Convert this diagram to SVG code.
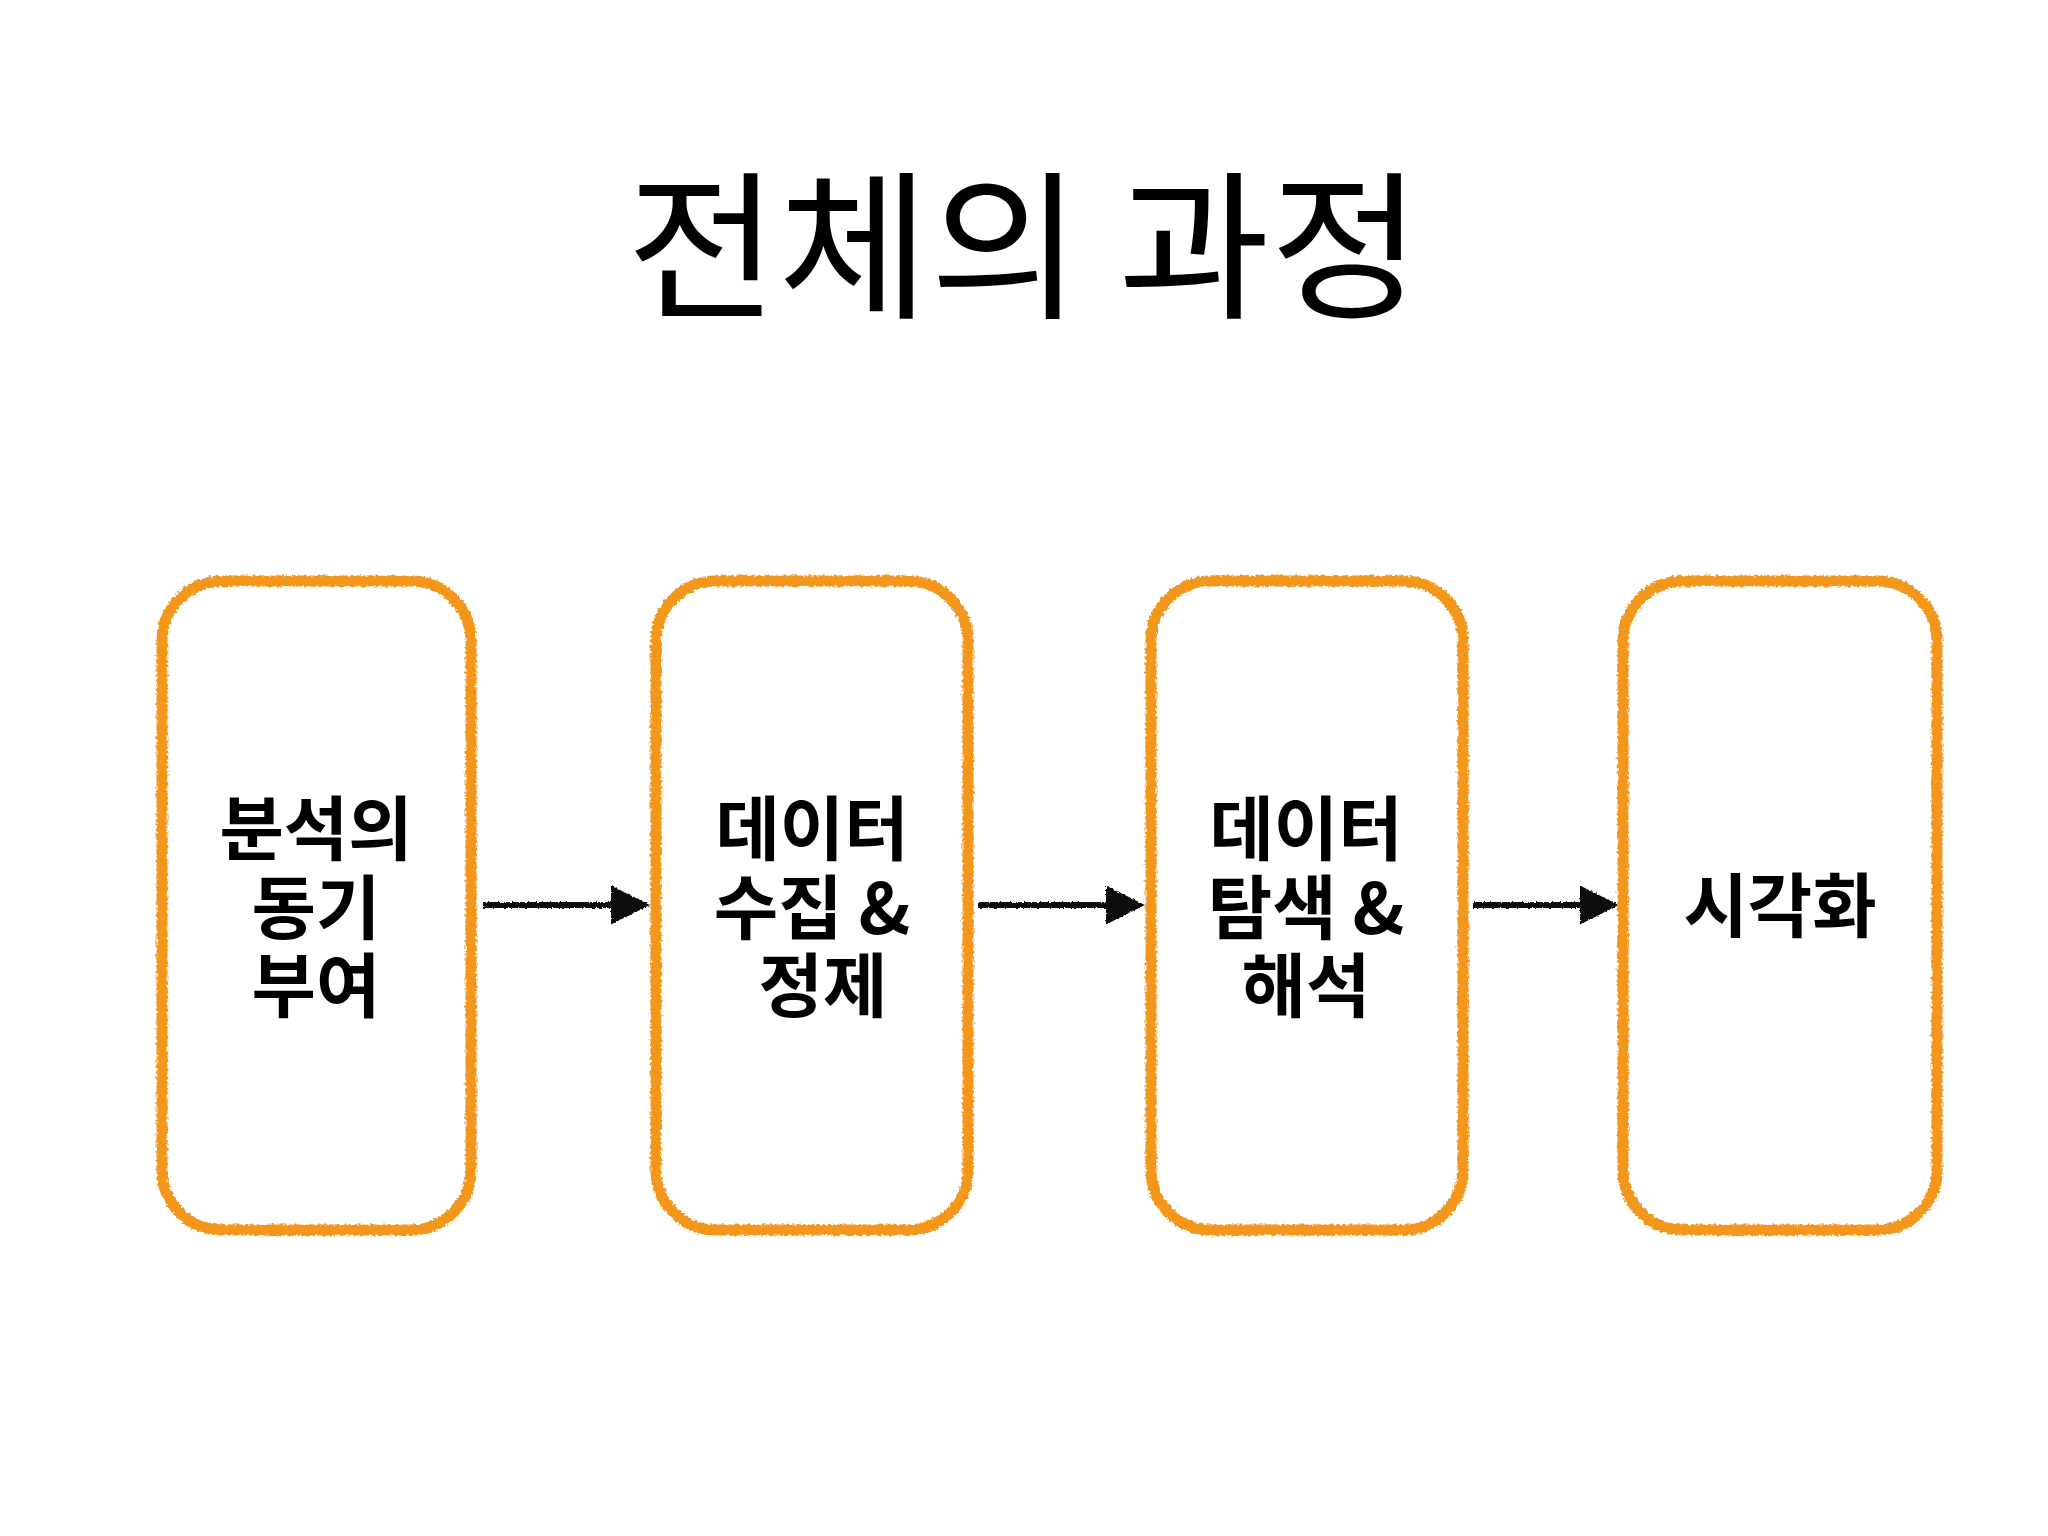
<svg xmlns="http://www.w3.org/2000/svg" width="2048" height="1536" viewBox="0 0 2048 1536">
<defs>
<style>
.box{fill:none;stroke:#F2961E;stroke-width:11;filter:url(#rough)}
.lbl{font-family:"Noto Sans CJK KR","Noto Sans",sans-serif;font-weight:700;font-size:70px;fill:#000;text-anchor:middle}
.title{font-family:"Noto Sans CJK KR","Noto Sans",sans-serif;font-weight:400;font-size:160px;fill:#000;text-anchor:middle}
.conn{stroke:#111;stroke-width:6;fill:none;filter:url(#rough2)}
</style>
<filter id="rough" x="-5%" y="-5%" width="110%" height="110%">
<feTurbulence type="fractalNoise" baseFrequency="0.35" numOctaves="2" seed="3" result="n"/>
<feDisplacementMap in="SourceGraphic" in2="n" scale="5" xChannelSelector="R" yChannelSelector="G"/>
</filter>
<filter id="rough2" filterUnits="userSpaceOnUse" x="0" y="800" width="2048" height="200">
<feTurbulence type="fractalNoise" baseFrequency="0.5" numOctaves="2" seed="7" result="n"/>
<feDisplacementMap in="SourceGraphic" in2="n" scale="3" xChannelSelector="R" yChannelSelector="G"/>
</filter>
<marker id="ah" viewBox="0 0 10 10" refX="9" refY="5" markerWidth="6.5" markerHeight="6.5" markerUnits="strokeWidth" orient="auto">
<path d="M0,0 L10,5 L0,10 Z" fill="#111"/>
</marker>
</defs>
<rect width="2048" height="1536" fill="#fff"/>
<text class="title" x="1024" y="306" textLength="795" lengthAdjust="spacingAndGlyphs">전체의 과정</text>
<g id="connectors">
<path class="conn" d="M483,905 L646,905" marker-end="url(#ah)"/>
<path class="conn" d="M978,905 L1141,905" marker-end="url(#ah)"/>
<path class="conn" d="M1473,905 L1615,905" marker-end="url(#ah)"/>
</g>
<g id="node1">
<rect class="box" x="162" y="581" width="309" height="649" rx="60"/>
<text class="lbl"><tspan x="316" y="855">분석의</tspan><tspan x="316" y="934">동기</tspan><tspan x="316" y="1012">부여</tspan></text>
</g>
<g id="node2">
<rect class="box" x="656" y="581" width="312" height="649" rx="60"/>
<text class="lbl"><tspan x="812" y="855">데이터</tspan><tspan x="812" y="934">수집 &amp;</tspan><tspan x="823" y="1012">정제</tspan></text>
</g>
<g id="node3">
<rect class="box" x="1151" y="581" width="312" height="649" rx="60"/>
<text class="lbl"><tspan x="1306" y="855">데이터</tspan><tspan x="1306" y="934">탐색 &amp;</tspan><tspan x="1306" y="1012">해석</tspan></text>
</g>
<g id="node4">
<rect class="box" x="1623" y="581" width="314" height="649" rx="60"/>
<text class="lbl" x="1780" y="932">시각화</text>
</g>
</svg>
